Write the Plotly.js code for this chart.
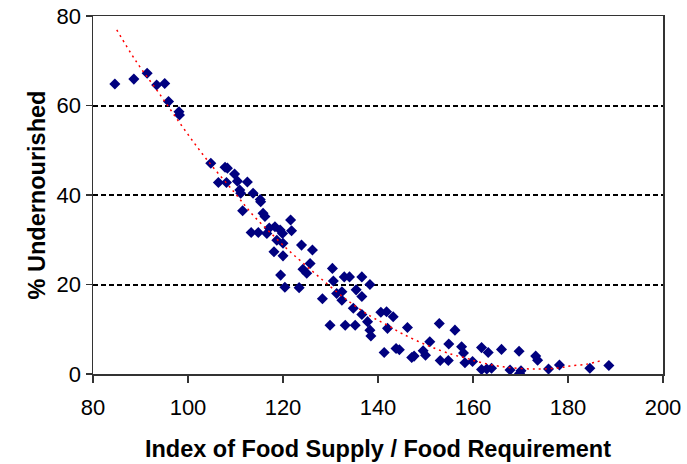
<!DOCTYPE html>
<html>
<head>
<meta charset="utf-8">
<script src="https://cdn.plot.ly/plotly-3.0.1.min.js"></script>
<style>html,body{margin:0;padding:0;background:#fff;}#chart{width:687px;height:464px;}</style>
</head>
<body>
<div id="chart"></div>
<script>
// Observed countries: index of food supply / requirement vs % undernourished
var supplyIndex = [84.6, 88.6, 91.4, 93.4, 95.1, 95.9, 98.1, 98.2, 104.8, 107.8, 108.3, 109.8, 106.4, 108.1, 110.4, 112.5, 110.9, 111.1, 113.7, 115.2, 115.3, 111.5, 115.8, 116.2, 121.6, 113.3, 114.8, 116.6, 118.3, 119.4, 117.1, 119.9, 121.8, 118.7, 120.0, 118.1, 120.0, 123.9, 126.2, 125.7, 124.2, 125.0, 119.5, 120.4, 123.4, 130.4, 130.6, 132.9, 134.0, 136.6, 138.3, 131.3, 132.4, 135.4, 136.6, 128.3, 132.4, 134.8, 136.6, 137.8, 138.3, 138.5, 140.6, 141.8, 129.9, 133.1, 135.2, 142.0, 143.2, 146.2, 141.3, 143.8, 144.5, 147.1, 147.6, 149.5, 150.0, 150.9, 152.9, 154.9, 156.2, 153.1, 154.8, 157.6, 158.0, 158.3, 159.9, 161.8, 163.2, 161.8, 162.9, 163.9, 166.0, 167.8, 169.7, 170.1, 169.8, 173.2, 173.6, 175.9, 178.2, 184.6, 188.6];
var undernourished = [64.8, 65.9, 67.2, 64.6, 64.9, 60.9, 58.6, 57.9, 47.1, 46.2, 46.0, 44.7, 42.8, 42.8, 43.1, 42.9, 41.1, 40.4, 40.4, 39.0, 38.5, 36.5, 35.9, 35.2, 34.4, 31.6, 31.6, 31.4, 32.9, 32.2, 32.6, 31.4, 32.0, 29.9, 29.2, 27.3, 26.4, 28.8, 27.7, 24.7, 23.4, 22.5, 22.1, 19.4, 19.3, 23.6, 20.8, 21.7, 21.7, 21.7, 20.0, 18.0, 18.4, 18.8, 17.3, 16.8, 16.5, 14.7, 13.3, 11.7, 9.8, 8.5, 13.8, 13.9, 10.9, 10.9, 10.9, 10.2, 12.8, 10.4, 4.8, 5.7, 5.4, 3.7, 4.0, 5.2, 4.2, 7.2, 11.3, 6.7, 9.8, 3.0, 3.0, 6.1, 4.7, 2.5, 2.8, 5.9, 4.8, 1.0, 1.1, 1.3, 5.5, 0.9, 5.1, 0.7, 0.1, 4.0, 3.1, 1.1, 2.0, 1.3, 1.9];

// Trend curve
var trendX = [85, 89, 94, 99, 103.9, 109.9, 113.7, 117.6, 121.1, 123.9, 127.8, 133.4, 138.3, 141.8, 145.3, 150.6, 155.5, 158.7, 160.8, 166.4, 173.4, 178.3, 180.4, 183.9, 187.4];
var trendY = [76.9, 70.0, 62.6, 55.0, 48.0, 40.4, 35.5, 31.3, 27.7, 25.1, 21.5, 16.6, 13.0, 11.0, 8.9, 6.3, 4.4, 3.5, 2.8, 1.6, 1.1, 1.4, 1.8, 2.2, 3.1];

var xTicks = [80, 100, 120, 140, 160, 180, 200];
var yTicks = [0, 20, 40, 60, 80];

var traces = [
  {
    x: supplyIndex, y: undernourished, type: 'scatter', mode: 'markers',
    marker: {symbol: 'diamond', size: 8.5, color: '#00007f', line: {width: 0}},
    hoverinfo: 'x+y', showlegend: false
  },
  {
    x: trendX, y: trendY, type: 'scatter', mode: 'lines',
    line: {color: '#ff0000', width: 1.5, dash: '2px,4px', shape: 'spline', smoothing: 1},
    hoverinfo: 'skip', showlegend: false
  }
];

var layout = {
  width: 687, height: 464,
  margin: {l: 93, r: 24, t: 16, b: 90},
  paper_bgcolor: '#ffffff', plot_bgcolor: '#ffffff',
  font: {family: 'Liberation Sans, Arial, sans-serif', color: '#000'},
  showlegend: false,
  xaxis: {
    range: [80, 200], tickvals: xTicks, ticktext: xTicks.map(String),
    showgrid: false, zeroline: false,
    showline: true, linecolor: '#333', linewidth: 1.5, mirror: true,
    ticks: 'outside', ticklen: 7, tickwidth: 1.5, tickcolor: '#333',
    ticklabelstandoff: 6,
    tickfont: {size: 22, color: '#000'},
    title: {text: 'Index of Food Supply / Food Requirement', font: {size: 23.5, color: '#000', weight: 'bold'}, standoff: 21}
  },
  yaxis: {
    range: [0, 80], tickvals: yTicks, ticktext: yTicks.map(String),
    showgrid: true, gridcolor: '#000', gridwidth: 2, griddash: '5px,3px',
    zeroline: false,
    showline: true, linecolor: '#333', linewidth: 1.5, mirror: true,
    ticks: 'outside', ticklen: 6, tickwidth: 1.5, tickcolor: '#333',
    tickfont: {size: 22, color: '#000'},
    title: {text: '% Undernourished', font: {size: 23.5, color: '#000', weight: 'bold'}, standoff: 4}
  }
};

Plotly.newPlot('chart', traces, layout, {displayModeBar: false, staticPlot: true});
</script>
</body>
</html>
